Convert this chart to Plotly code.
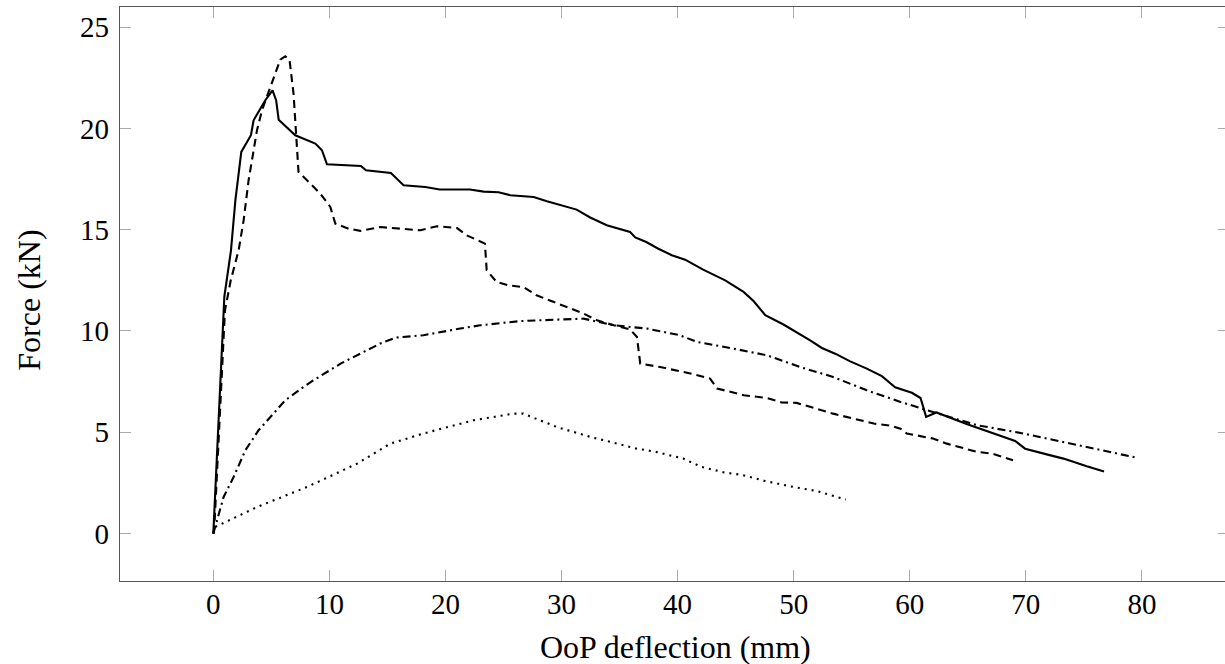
import plotly.graph_objects as go

# Series A (solid)
a_x = [0, 0.95, 1.52, 1.9, 2.41, 3.24, 3.47, 4.48, 5.1, 5.41, 5.63, 7.06, 8.79, 9.36, 9.79,
       12.72, 13.15, 15.3, 16.39, 18.26, 19.5, 22.1, 23.3, 24.57, 25.58, 27.6, 28.74, 31.3,
       32.47, 33.9, 35.9, 36.35, 37.3, 38.3, 39.5, 40.65, 42.2, 44.1, 45.68, 46.54, 47.55,
       49.12, 51.42, 52.43, 53.58, 54.87, 56.3, 57.6, 58.74, 60.18, 60.93, 61.41, 62.3,
       64.9, 69.08, 69.94, 71.8, 73.24, 75.25, 76.74]
a_y = [0, 11.7, 13.97, 16.45, 18.84, 19.66, 20.4, 21.39, 21.88, 21.39, 20.43, 19.66, 19.25,
       18.92, 18.23, 18.14, 17.93, 17.8, 17.19, 17.11, 16.98, 16.98, 16.88, 16.85, 16.7,
       16.61, 16.4, 15.99, 15.6, 15.22, 14.89, 14.62, 14.39, 14.07, 13.74, 13.52, 13.03,
       12.5, 11.93, 11.48, 10.78, 10.32, 9.54, 9.16, 8.88, 8.5, 8.14, 7.77, 7.22, 6.95,
       6.69, 5.76, 5.98, 5.41, 4.57, 4.19, 3.91, 3.7, 3.32, 3.07]

# Series B (dashed)
b_x = [0, 0.09, 1.0, 1.5, 2.18, 2.61, 3.04, 3.76, 4.19, 4.9, 5.77, 6.2, 6.57, 6.91, 7.14,
       7.34, 8.35, 9.22, 10.08, 10.51, 11.65, 12.66, 14.38, 17.83, 19.27, 21.0, 21.84,
       23.4, 23.55, 24.4, 25.4, 26.7, 27.85, 29.3, 30.9, 31.9, 33.05, 34.5, 35.9, 36.5,
       36.78, 38.5, 41.1, 42.8, 43.4, 45.7, 47.7, 48.97, 50.26, 53.4, 56.9, 58.4, 59.2,
       59.75, 62.0, 63.2, 65.8, 67.1, 68.9]
b_y = [0, 0.33, 11.0, 12.5, 13.98, 15.46, 17.44, 19.9, 20.89, 22.04, 23.39, 23.56, 23.36,
       21.72, 19.58, 17.85, 17.28, 16.78, 16.12, 15.3, 15.05, 14.94, 15.13, 14.97, 15.17,
       15.08, 14.72, 14.31, 13.0, 12.42, 12.25, 12.17, 11.76, 11.43, 11.1, 10.86, 10.53,
       10.28, 10.08, 9.7, 8.39, 8.22, 7.9, 7.65, 7.16, 6.83, 6.69, 6.47, 6.45, 5.92, 5.43,
       5.32, 5.18, 4.94, 4.69, 4.44, 4.03, 3.95, 3.62]

# Series C (dash-dot)
c_x = [0, 0.17, 0.89, 1.75, 2.76, 3.9, 4.9, 6.2, 7.78, 8.64, 11.0, 14.38, 15.68, 18.1,
       21.27, 23.0, 26.44, 28.74, 31.9, 34.5, 37.35, 40.2, 41.66, 44.8, 47.7, 50.56, 53.4,
       56.3, 59.2, 62.0, 65.8, 69.8, 73.8, 77.0, 79.5]
c_y = [0, 0.33, 1.81, 2.79, 4.11, 5.1, 5.76, 6.58, 7.24, 7.57, 8.4, 9.38, 9.67, 9.79,
       10.12, 10.28, 10.49, 10.53, 10.61, 10.28, 10.12, 9.79, 9.46, 9.13, 8.8, 8.22, 7.73,
       7.07, 6.5, 6.0, 5.35, 4.94, 4.44, 4.03, 3.75]

# Series D (dotted)
d_x = [0, 0.17, 3.76, 8.07, 12.38, 15.25, 18.1, 22.4, 25.86, 26.7, 29.6, 32.5, 36.5,
       38.0, 40.5, 42.0, 44.0, 45.5, 47.5, 50.0, 52.0, 54.5]
d_y = [0, 0.33, 1.31, 2.3, 3.45, 4.44, 4.94, 5.59, 5.92, 5.92, 5.26, 4.77, 4.19,
       4.05, 3.7, 3.3, 3.02, 2.9, 2.6, 2.3, 2.1, 1.68]

x_ticks = [0, 10, 20, 30, 40, 50, 60, 70, 80]
y_ticks = [0, 5, 10, 15, 20, 25]
x_title = "OoP deflection (mm)"
y_title = "Force (kN)"

FONT = "Liberation Serif"
TICKFONT = dict(size=29, family=FONT, color="black")

fig = go.Figure()
fig.add_trace(go.Scatter(x=a_x, y=a_y, mode="lines", line=dict(color="black", width=2.1)))
fig.add_trace(go.Scatter(x=b_x, y=b_y, mode="lines",
                         line=dict(color="black", width=2.1, dash="8px,5px")))
fig.add_trace(go.Scatter(x=c_x, y=c_y, mode="lines",
                         line=dict(color="black", width=2.1, dash="8px,4px,2px,4px")))
fig.add_trace(go.Scatter(x=d_x, y=d_y, mode="lines",
                         line=dict(color="black", width=2.1, dash="2px,5px")))
# invisible trace for right-side ticks
fig.add_trace(go.Scatter(x=[None], y=[None], yaxis="y2", showlegend=False))

fig.update_layout(
    width=1225, height=664,
    margin=dict(l=120, r=0, t=7, b=83),
    paper_bgcolor="white", plot_bgcolor="white",
    showlegend=False,
    font=dict(family=FONT, color="black", size=29),
    xaxis=dict(range=[-8.04, 87.16], tickvals=x_ticks, ticks="inside", ticklen=11,
               tickcolor="#aaaaaa", tickwidth=1.2, showgrid=False, zeroline=False,
               showline=True, linecolor="#555555", linewidth=1.3, mirror="ticks",
               tickfont=TICKFONT, ticklabelstandoff=-3, automargin=False),
    yaxis=dict(range=[-2.34, 25.99], tickvals=y_ticks, ticks="inside", ticklen=11,
               tickcolor="#aaaaaa", tickwidth=1.2, showgrid=False, zeroline=False,
               showline=True, linecolor="#555555", linewidth=1.3,
               tickfont=TICKFONT, ticklabelstandoff=4, automargin=False),
    yaxis2=dict(range=[-2.34, 25.99], tickvals=y_ticks, ticks="inside", ticklen=7,
                tickcolor="#aaaaaa", tickwidth=1.2, showgrid=False, zeroline=False,
                showline=False, showticklabels=False, overlaying="y", side="right",
                automargin=False),
    annotations=[
        dict(text=x_title, xref="paper", yref="paper", x=0.5023, y=-0.115,
             xanchor="center", yanchor="middle", showarrow=False,
             font=dict(size=32, family=FONT, color="black")),
        dict(text=y_title, xref="paper", yref="paper", x=-0.082, y=0.489,
             xanchor="center", yanchor="middle", textangle=-90, showarrow=False,
             font=dict(size=32, family=FONT, color="black")),
    ],
)

fig.write_html("out.html", config={"displayModeBar": False},
               post_script="document.body.style.margin='0';document.body.style.padding='0';")
